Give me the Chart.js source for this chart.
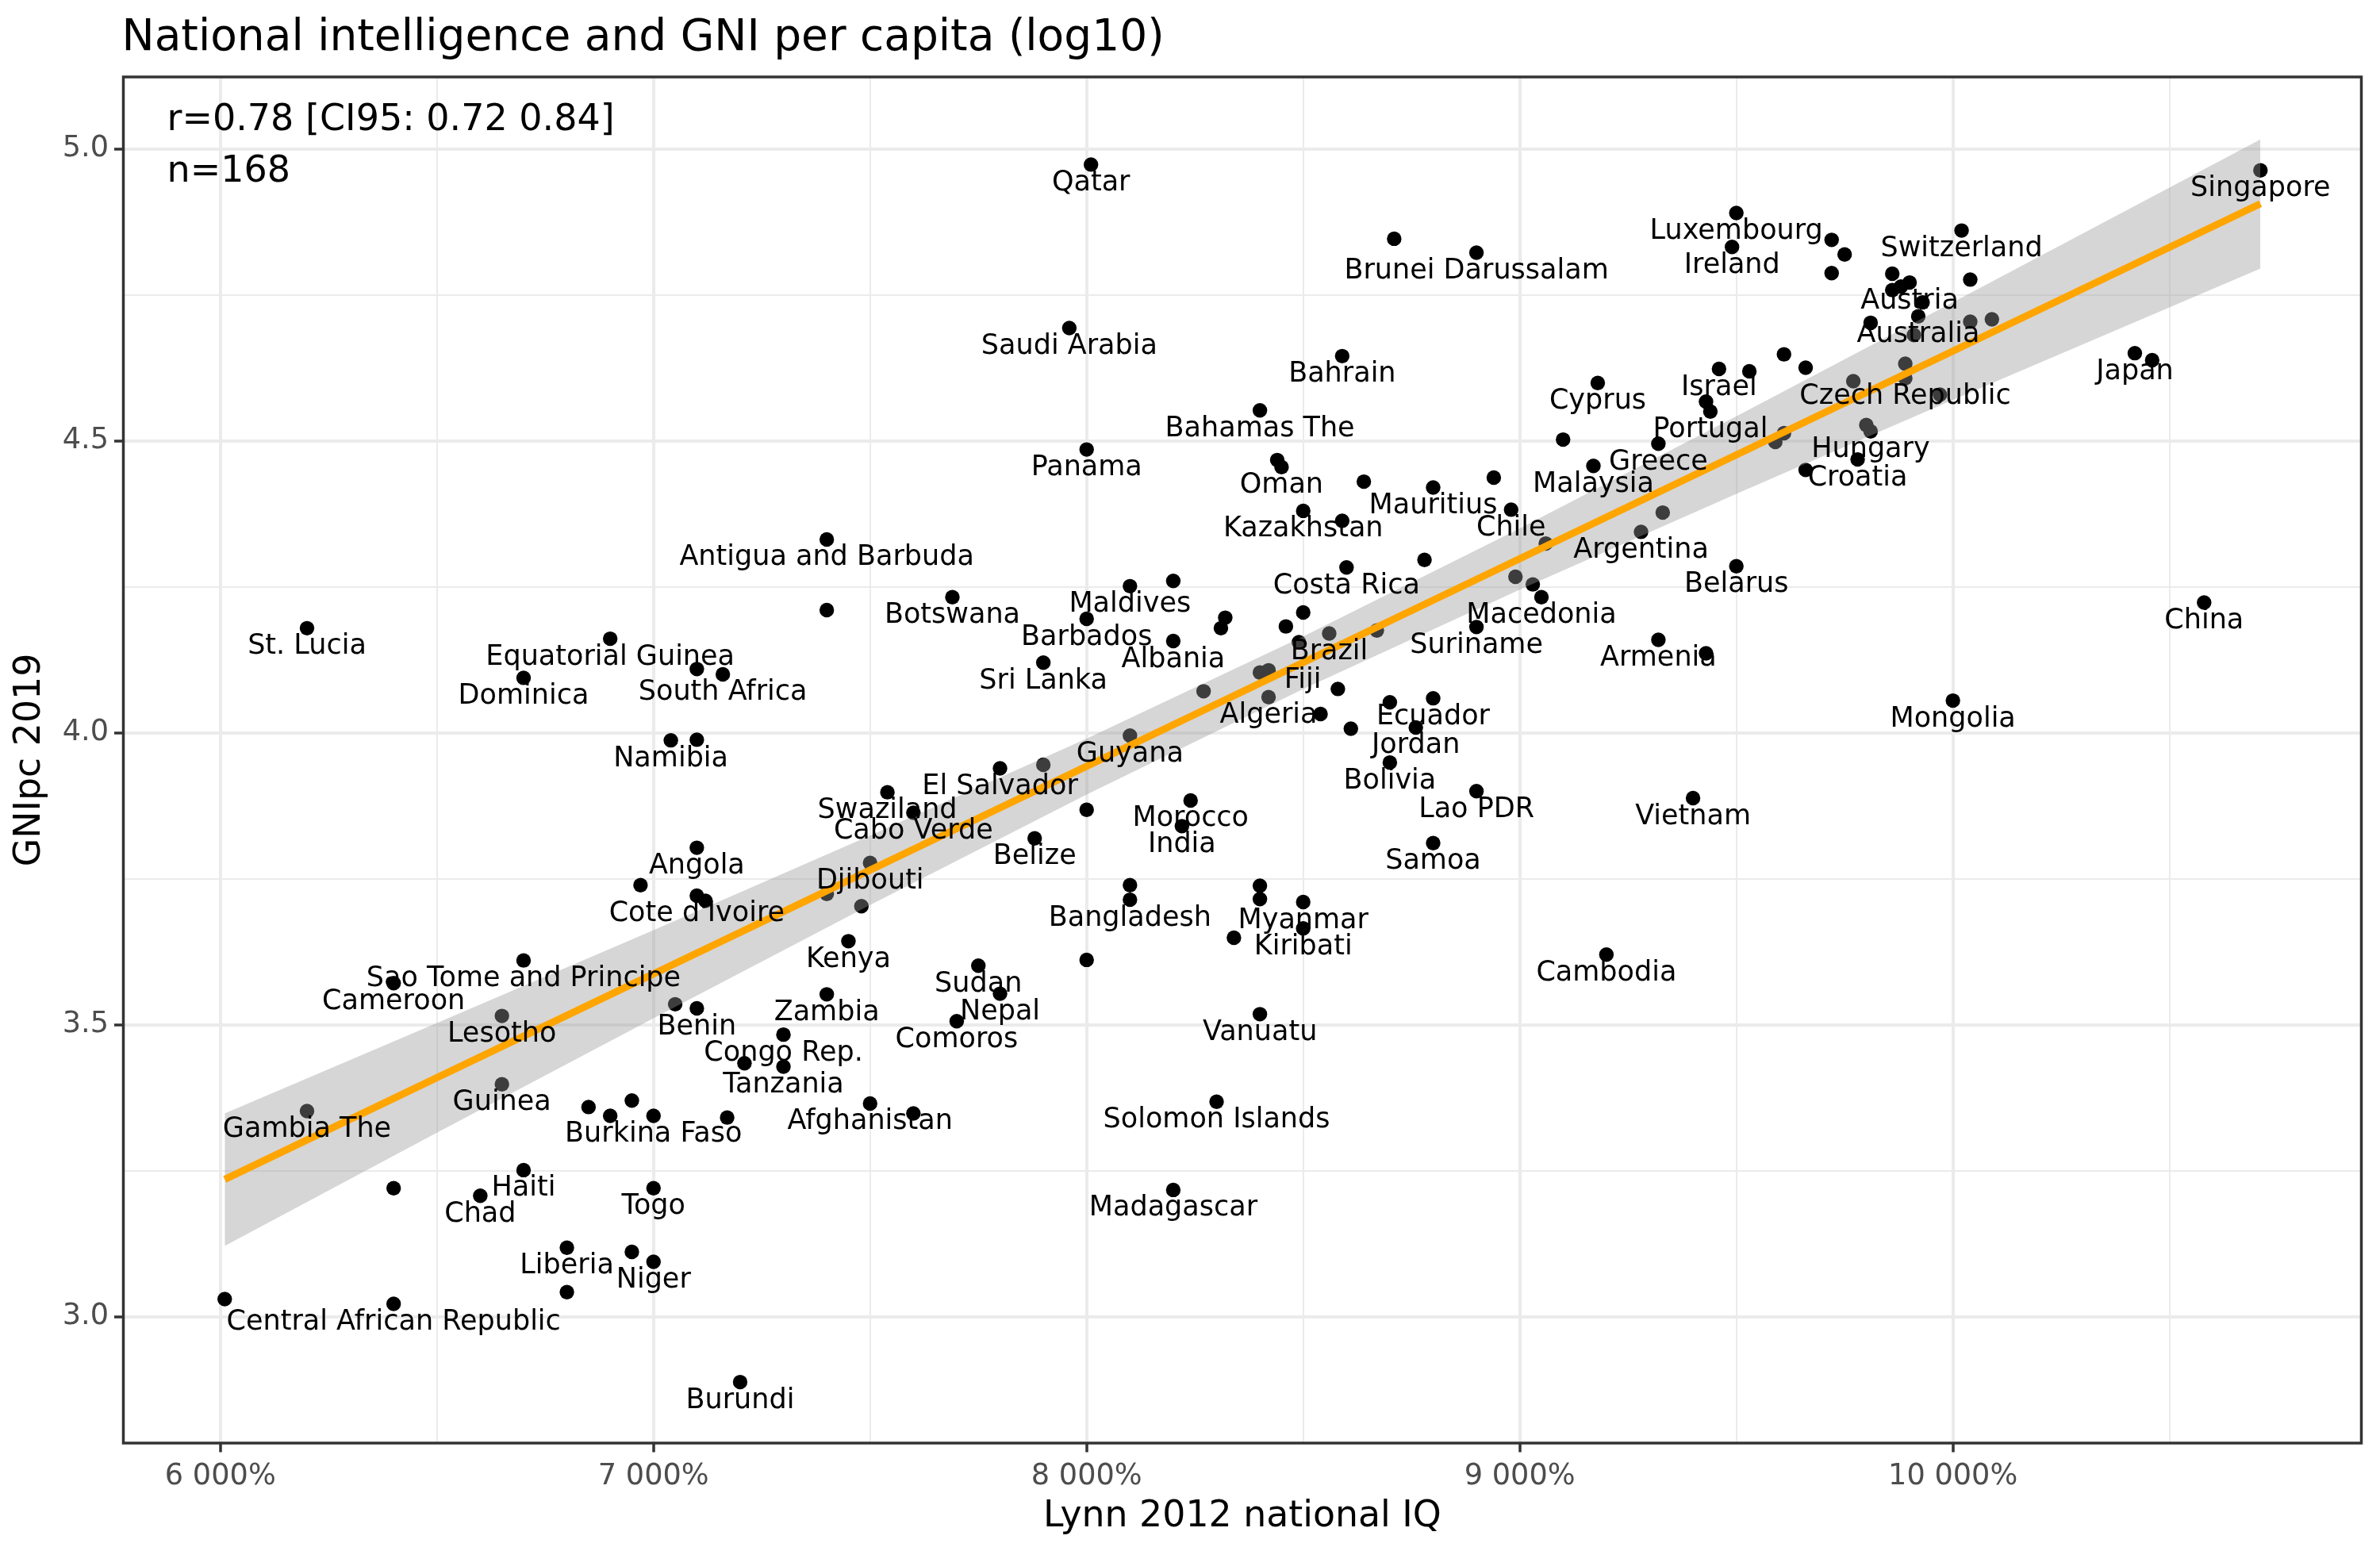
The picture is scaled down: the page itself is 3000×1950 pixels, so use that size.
<!DOCTYPE html>
<html>
<head>
<meta charset="utf-8">
<script src="https://cdn.jsdelivr.net/npm/chart.js@4.4.1/dist/chart.umd.min.js"></script>
<style>
  body { margin: 0; background: #ffffff; }
  canvas { display: block; }
</style>
</head>
<body>
<canvas id="iqChart" width="3000" height="1950"></canvas>
<script>
// countries that carry a label
const countryNames = [
  'Qatar', 'Singapore', 'Luxembourg', 'Brunei Darussalam', 'Switzerland', 'Ireland', 'Austria',
  'Saudi Arabia', 'Australia', 'Bahrain', 'Japan', 'Israel', 'Czech Republic', 'Cyprus',
  'Portugal', 'Bahamas The', 'Hungary', 'Panama', 'Greece', 'Croatia', 'Oman', 'Malaysia',
  'Mauritius', 'Kazakhstan', 'Chile', 'Antigua and Barbuda', 'Argentina', 'Costa Rica', 'Belarus',
  'Maldives', 'Botswana', 'Macedonia', 'Barbados', 'St. Lucia', 'Suriname', 'Brazil',
  'Equatorial Guinea', 'Albania', 'Armenia', 'Fiji', 'Sri Lanka', 'China', 'Dominica',
  'South Africa', 'Algeria', 'Ecuador', 'Mongolia', 'Jordan', 'Namibia', 'Guyana', 'Bolivia',
  'El Salvador', 'Swaziland', 'Lao PDR', 'Vietnam', 'Cabo Verde', 'Morocco', 'India', 'Belize',
  'Samoa', 'Angola', 'Djibouti', "Cote d'Ivoire", 'Bangladesh', 'Myanmar', 'Kenya', 'Kiribati',
  'Cambodia', 'Sao Tome and Principe', 'Sudan', 'Cameroon', 'Nepal', 'Zambia', 'Lesotho', 'Benin',
  'Comoros', 'Vanuatu', 'Congo Rep.', 'Tanzania', 'Gambia The', 'Guinea', 'Afghanistan',
  'Burkina Faso', 'Solomon Islands', 'Haiti', 'Chad', 'Togo', 'Madagascar', 'Liberia', 'Niger',
  'Central African Republic', 'Burundi'
];
const countryIQ = [
  80.1, 107.1, 95.0, 89.0, 100.2, 94.9, 99.0,
  79.6, 99.2, 85.9, 104.2, 94.6, 98.9, 91.8,
  94.4, 84.0, 98.1, 80.0, 93.2, 97.8, 84.5, 91.7,
  88.0, 85.0, 89.8, 74.0, 92.8, 86.0, 95.0,
  81.0, 76.9, 90.5, 80.0, 62.0, 89.0, 85.6,
  69.0, 82.0, 93.2, 84.2, 79.0, 105.8, 67.0,
  71.6, 84.2, 88.0, 100.0, 87.6, 70.4, 81.0, 87.0,
  78.0, 75.4, 89.0, 94.0, 76.0, 82.4, 82.2, 78.8,
  88.0, 71.0, 75.0, 71.0, 81.0, 85.0, 74.5, 85.0,
  92.0, 67.0, 77.5, 64.0, 78.0, 74.0, 66.5, 71.0,
  77.0, 84.0, 73.0, 73.0, 62.0, 66.5, 75.0,
  70.0, 83.0, 67.0, 66.0, 70.0, 82.0, 68.0, 70.0,
  64.0, 72.0
];
const countryGni = [
  4.973, 4.963, 4.890, 4.822, 4.860, 4.832, 4.771,
  4.693, 4.713, 4.645, 4.650, 4.623, 4.607, 4.599,
  4.550, 4.552, 4.516, 4.485, 4.495, 4.468, 4.455, 4.457,
  4.420, 4.380, 4.382, 4.331, 4.344, 4.283, 4.285,
  4.251, 4.232, 4.232, 4.195, 4.179, 4.181, 4.170,
  4.161, 4.157, 4.159, 4.107, 4.120, 4.223, 4.094,
  4.100, 4.061, 4.059, 4.055, 4.009, 3.987, 3.995, 3.949,
  3.939, 3.898, 3.900, 3.888, 3.863, 3.884, 3.840, 3.819,
  3.811, 3.803, 3.777, 3.721, 3.714, 3.710, 3.643, 3.665,
  3.620, 3.610, 3.601, 3.571, 3.553, 3.552, 3.515, 3.528,
  3.506, 3.518, 3.483, 3.428, 3.352, 3.398, 3.365,
  3.344, 3.368, 3.251, 3.207, 3.220, 3.217, 3.118, 3.094,
  3.022, 2.888
];
// label that was pushed aside from its point (pixels)
const labelNudge = { 'Fiji': [43, -10] };

// points drawn without a label
const otherIQ = [
  87.1, 97.2, 97.5, 97.2, 98.6, 100.4, 98.8, 98.6, 98.1, 100.4, 100.9, 99.3, 99.1,
  104.6, 98.9, 97.7, 99.7, 98.0, 96.6,
  95.3, 96.1, 96.6, 94.3, 91.0, 96.1, 95.9,
  84.4, 86.4, 89.4, 85.9, 93.3, 90.6,
  74.0, 82.0, 83.2, 83.1, 71.0, 82.7,
  87.8, 89.9, 90.3, 94.3, 85.0, 84.6, 86.7, 84.9, 84.0, 85.8, 85.4, 86.1, 87.0,
  71.0, 79.0, 80.0, 69.7, 74.0, 74.8, 71.2, 81.0, 83.4, 80.0,
  84.0, 84.0, 70.5, 72.1, 71.7, 76.0,
  68.5, 69.5, 69.0, 64.0, 69.5, 68.0, 60.1
];
const otherGni = [
  4.846, 4.844, 4.819, 4.787, 4.786, 4.776, 4.764, 4.758, 4.702, 4.704, 4.708, 4.737, 4.681,
  4.638, 4.632, 4.602, 4.579, 4.527, 4.450,
  4.619, 4.648, 4.625, 4.567, 4.502, 4.513, 4.498,
  4.467, 4.430, 4.437, 4.363, 4.377, 4.324,
  4.210, 4.260, 4.197, 4.179, 4.109, 4.071,
  4.296, 4.267, 4.254, 4.136, 4.206, 4.182, 4.175, 4.155, 4.103, 4.075, 4.032, 4.007, 4.052,
  3.988, 3.945, 3.868, 3.739, 3.724, 3.703, 3.712, 3.739, 3.649, 3.611,
  3.738, 3.715, 3.535, 3.434, 3.341, 3.348,
  3.359, 3.370, 3.344, 3.220, 3.111, 3.042, 3.030
];

// linear fit and its 95% band
const fitIQ = [60.1, 107.1];
const fitGni = [3.235, 4.906];
const bandIQ = [60.1, 65, 70, 75, 80, 85, 90, 95, 100, 107.1];
const bandLow = [3.121, 3.315, 3.511, 3.705, 3.894, 4.075, 4.245, 4.409, 4.570, 4.795];
const bandHigh = [3.348, 3.503, 3.662, 3.824, 3.990, 4.165, 4.350, 4.542, 4.737, 5.016];

const xTicks = [60, 70, 80, 90, 100];
const xTickLabels = ['6 000%', '7 000%', '8 000%', '9 000%', '10 000%'];
const xMinor = [65, 75, 85, 95, 105];
const yTicks = [3.0, 3.5, 4.0, 4.5, 5.0];
const yTickLabels = ['3.0', '3.5', '4.0', '4.5', '5.0'];
const yMinor = [3.25, 3.75, 4.25, 4.75];

const chartTitle = 'National intelligence and GNI per capita (log10)';
const statLines = ['r=0.78 [CI95: 0.72 0.84]', 'n=168'];

const FONT = 'DejaVu Sans';

function toPoints(xs, ys) {
    return xs.map((v, i) => ({ x: v, y: ys[i] }));
}

const textLayer = {
    id: 'textLayer',
    afterDatasetsDraw(chart) {
        const { ctx, chartArea, scales } = chart;
        ctx.save();
        ctx.beginPath();
        ctx.rect(chartArea.left, chartArea.top, chartArea.width, chartArea.height);
        ctx.clip();
        ctx.fillStyle = '#000000';
        ctx.font = '35px "' + FONT + '"';
        ctx.textAlign = 'center';
        ctx.textBaseline = 'alphabetic';
        countryNames.forEach((name, i) => {
            const shift = labelNudge[name] || [0, 0];
            const px = scales.x.getPixelForValue(countryIQ[i]) + shift[0];
            const py = scales.y.getPixelForValue(countryGni[i]) + 32.5 + shift[1];
            ctx.fillText(name, px, py);
        });
        ctx.textAlign = 'left';
        ctx.font = '46px "' + FONT + '"';
        statLines.forEach((line, i) => {
            ctx.fillText(line, chartArea.left + 55, chartArea.top + 66.5 + i * 65);
        });
        ctx.restore();
    },
    afterDraw(chart) {
        const { ctx, chartArea } = chart;
        ctx.save();
        // panel border
        ctx.strokeStyle = '#333333';
        ctx.lineWidth = 3.5;
        ctx.strokeRect(chartArea.left, chartArea.top, chartArea.width, chartArea.height);
        // plot title
        ctx.fillStyle = '#000000';
        ctx.font = '55px "' + FONT + '"';
        ctx.textAlign = 'left';
        ctx.textBaseline = 'alphabetic';
        ctx.fillText(chartTitle, chartArea.left - 2, 63);
        ctx.restore();
    }
};

const ctx = document.getElementById('iqChart').getContext('2d');
new Chart(ctx, {
    type: 'scatter',
    data: {
        datasets: [
            {
                type: 'line',
                data: toPoints(fitIQ, fitGni),
                borderColor: '#FFA500',
                borderWidth: 9,
                pointRadius: 0,
                fill: false,
                order: 0
            },
            {
                type: 'line',
                data: toPoints(bandIQ, bandHigh),
                borderColor: 'rgba(0,0,0,0)',
                borderWidth: 0,
                pointRadius: 0,
                backgroundColor: 'rgba(153,153,153,0.4)',
                fill: '+1',
                order: 1
            },
            {
                type: 'line',
                data: toPoints(bandIQ, bandLow),
                borderColor: 'rgba(0,0,0,0)',
                borderWidth: 0,
                pointRadius: 0,
                fill: false,
                order: 2
            },
            {
                data: toPoints(countryIQ, countryGni),
                backgroundColor: '#000000',
                borderColor: 'rgba(0,0,0,0)',
                borderWidth: 0,
                pointRadius: 9.2,
                order: 3
            },
            {
                data: toPoints(otherIQ, otherGni),
                backgroundColor: '#000000',
                borderColor: 'rgba(0,0,0,0)',
                borderWidth: 0,
                pointRadius: 9.2,
                order: 4
            }
        ]
    },
    options: {
        responsive: false,
        devicePixelRatio: 1,
        animation: false,
        events: [],
        layout: { padding: { top: 97, right: 23.5, bottom: 0, left: 0 } },
        plugins: {
            legend: { display: false },
            tooltip: { enabled: false },
            title: { display: false }
        },
        scales: {
            x: {
                type: 'linear',
                min: 57.76,
                max: 109.43,
                afterFit: (scale) => { scale.height = 131; },
                afterBuildTicks: (scale) => {
                    scale.ticks = xTicks.concat(xMinor).sort((a, b) => a - b).map(v => ({ value: v }));
                },
                ticks: {
                    autoSkip: false,
                    maxRotation: 0,
                    padding: 9,
                    color: '#4D4D4D',
                    font: { family: FONT, size: 36.7 },
                    callback: (value) => {
                        const k = xTicks.indexOf(value);
                        return k < 0 ? '' : xTickLabels[k];
                    }
                },
                grid: {
                    color: '#EBEBEB',
                    lineWidth: (c) => (c.tick && xTicks.includes(c.tick.value)) ? 4 : 2,
                    tickLength: 11.5,
                    tickWidth: 3.5,
                    tickColor: (c) => (c.tick && xTicks.includes(c.tick.value)) ? '#333333' : 'rgba(0,0,0,0)'
                },
                border: { display: false },
                title: {
                    display: true,
                    text: 'Lynn 2012 national IQ',
                    color: '#000000',
                    font: { family: FONT, size: 45.8 },
                    padding: { top: 0, bottom: 10 }
                }
            },
            y: {
                type: 'linear',
                min: 2.7835,
                max: 5.123,
                afterFit: (scale) => { scale.width = 155.5; },
                afterBuildTicks: (scale) => {
                    scale.ticks = yTicks.concat(yMinor).sort((a, b) => a - b).map(v => ({ value: v }));
                },
                ticks: {
                    autoSkip: false,
                    padding: 7,
                    color: '#4D4D4D',
                    font: { family: FONT, size: 36.7 },
                    callback: (value) => {
                        const k = yTicks.indexOf(value);
                        return k < 0 ? '' : yTickLabels[k];
                    }
                },
                grid: {
                    color: '#EBEBEB',
                    lineWidth: (c) => (c.tick && yTicks.includes(c.tick.value)) ? 4 : 2,
                    tickLength: 11.5,
                    tickWidth: 3.5,
                    tickColor: (c) => (c.tick && yTicks.includes(c.tick.value)) ? '#333333' : 'rgba(0,0,0,0)'
                },
                border: { display: false },
                title: {
                    display: true,
                    text: 'GNIpc 2019',
                    color: '#000000',
                    font: { family: FONT, size: 45.8 },
                    padding: { top: 11, bottom: 0 }
                }
            }
        }
    },
    plugins: [textLayer]
});
</script>
</body>
</html>
